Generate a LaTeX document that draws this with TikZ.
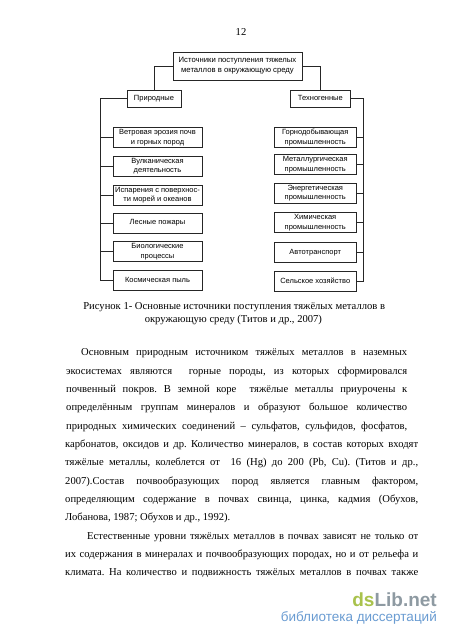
\documentclass[tikz,border=0pt]{standalone}
\usepackage{fontspec}
\setmainfont{Liberation Serif}
\newfontfamily\diafont{Liberation Sans}
\newfontfamily\wmfont{Liberation Sans}
\definecolor{wmgreen}{HTML}{A9C24C}
\definecolor{wmgray}{HTML}{8E9AA2}
\definecolor{wmblue}{HTML}{6A9CD2}
\frenchspacing
\newcommand{\bodyline}[4]{\node[bodytext] (#1) at (#2) {\makebox[#3][s]{#4}};}
\begin{document}
\begin{tikzpicture}[x=1pt,y=-1pt,
  box/.style={draw=black!85,line width=0.6pt,inner sep=0pt,align=center,
    font=\diafont\fontsize{7.5}{9.4}\selectfont},
  lbox/.style={box,minimum width=89pt,minimum height=20pt},
  rbox/.style={box,minimum width=81.5pt,minimum height=20pt},
  conn/.style={draw=black!85,line width=0.6pt},
  bodytext/.style={anchor=base west,inner sep=0pt,font=\fontsize{10.6}{12}\selectfont},
  captext/.style={anchor=base,inner sep=0pt,font=\fontsize{10.6}{12}\selectfont}]
\useasboundingbox[fill=white] (0,0) rectangle (450,637);

\node[captext] (pnum) at (241,35) {12};

% diagram
\node[box,minimum width=129pt,minimum height=28pt,font=\diafont\fontsize{7.7}{10}\selectfont] (top) at (237.5,66) {Источники поступления тяжелых\\металлов в окружающую среду};
\node[box,minimum width=54pt,minimum height=17pt] (nat) at (154,98.3) {Природные};
\node[box,minimum width=59.4pt,minimum height=17pt] (tech) at (320.4,98.3) {Техногенные};

\node[lbox] (l1) at (157.5,137.7) {Ветровая эрозия почв\\и горных пород};
\node[lbox] (l2) at (157.5,166.2) {Вулканическая\\деятельность};
\node[lbox] (l3) at (157.5,194.9) {Испарения с поверхнос-\\ти морей и океанов};
\node[lbox] (l4) at (157.5,223.0) {Лесные пожары};
\node[lbox] (l5) at (157.5,251.5) {Биологические\\процессы};
\node[lbox] (l6) at (157.5,280.2) {Космическая пыль};

\node[rbox] (r1) at (315.25,137.7) {Горнодобывающая\\промышленность};
\node[rbox] (r2) at (315.25,164.7) {Металлургическая\\промышленность};
\node[rbox] (r3) at (315.25,193.2) {Энергетическая\\промышленность};
\node[rbox] (r4) at (315.25,222.7) {Химическая\\промышленность};
\node[rbox] (r5) at (315.25,252.5) {Автотранспорт};
\node[rbox] (r6) at (315.25,280.8) {Сельское хозяйство};

\coordinate (lbus) at (100,0);
\coordinate (rbus) at (363,0);

\draw[conn] (top.west) -| (nat.north);
\draw[conn] (top.east) -| (tech.north);
\draw[conn] (nat.west) -| (lbus |- l6.west) -- (l6.west);
\draw[conn] (tech.east) -| (rbus |- r6.east) -- (r6.east);
\foreach \i in {1,...,5}{
  \draw[conn] (lbus |- l\i.west) -- (l\i.west);
  \draw[conn] (rbus |- r\i.east) -- (r\i.east);
}

% caption
\node[captext] (cap1) at (234.2,309) {Рисунок 1- Основные источники поступления тяжёлых металлов в};
\node[captext] (cap2) at (233.4,322.3) {окружающую среду (Титов и др., 2007)};

% body text
\bodyline{b1}{81,355.7}{326pt}{Основным природным источником тяжёлых металлов в наземных}
\bodyline{b2}{66,374.0}{341pt}{экосистемах являются \ горные породы, из которых сформировался}
\bodyline{b3}{66,392.4}{341pt}{почвенный покров. В земной коре \ тяжёлые металлы приурочены к}
\bodyline{b4}{66,410.7}{341pt}{определённым группам минералов и образуют большое количество}
\bodyline{b5}{66,429.0}{341pt}{природных химических соединений – сульфатов, сульфидов, фосфатов,}
\bodyline{b6}{65,447.3}{353pt}{карбонатов, оксидов и др. Количество минералов, в состав которых входят}
\bodyline{b7}{65,465.7}{353pt}{тяжёлые металлы, колеблется от \ 16 (Hg) до 200 (Pb, Cu). (Титов и др.,}
\bodyline{b8}{65,484.0}{353pt}{2007).Состав почвообразующих пород является главным фактором,}
\bodyline{b9}{65,502.3}{353pt}{определяющим содержание в почвах свинца, цинка, кадмия (Обухов,}
\node[bodytext] (b10) at (65,520.7) {Лобанова, 1987; Обухов и др., 1992).};
\bodyline{b11}{87,539.0}{331pt}{Естественные уровни тяжёлых металлов в почвах зависят не только от}
\bodyline{b12}{65,557.3}{353pt}{их содержания в минералах и почвообразующих породах, но и от рельефа и}
\bodyline{b13}{65,575.7}{353pt}{климата. На количество и подвижность тяжёлых металлов в почвах также}

% watermark
\node[anchor=base east,inner sep=0pt,font=\wmfont\bfseries\fontsize{19}{20}\selectfont] (wm1) at (437,606.5) {\textcolor{wmgreen}{ds}\textcolor{wmgray}{Lib.net}};
\node[anchor=base east,inner sep=0pt,font=\wmfont\fontsize{13.5}{14}\selectfont,text=wmblue] (wm2) at (437,621.5) {библиотека диссертаций};
\end{tikzpicture}
\end{document}
